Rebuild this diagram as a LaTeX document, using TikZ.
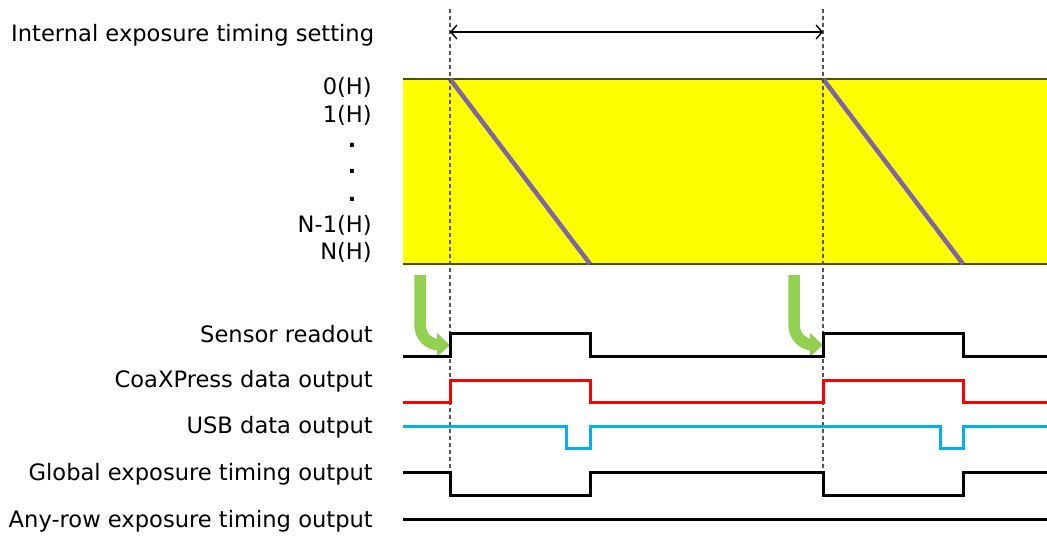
\documentclass[tikz,border=0pt]{standalone}
\usepackage{fontspec}
\setmainfont{DejaVu Sans}
\newfontfamily\dotfont{DejaVu Sans Bold}
\usetikzlibrary{arrows.meta}
\definecolor{ylw}{RGB}{255,255,0}
\definecolor{ylwedge}{RGB}{77,77,0}
\definecolor{purp}{RGB}{128,100,170}
\definecolor{grn}{RGB}{146,208,80}
\definecolor{blu}{RGB}{0,176,240}
\definecolor{dashgray}{RGB}{85,85,85}
\begin{document}
\begin{tikzpicture}[x=1pt,y=-1pt,
  lbl/.style={anchor=base east, font=\fontsize{22.6}{24}\selectfont, inner sep=0pt},
  dotlbl/.style={anchor=base, font=\fontsize{22}{24}\dotfont, inner sep=0pt},
  sig/.style={line width=3pt, line join=miter},
  guide/.style={dashgray, line width=1.5pt, dash pattern=on 4pt off 3pt},
  ramp/.style={purp, line width=4.5pt},
  greenarrow/.style={grn, line width=11.5pt, rounded corners=20pt, -{Triangle[length=13pt,width=23pt]}},
  span/.style={line width=1.4pt, {Straight Barb[length=6pt,width=14pt]}-{Straight Barb[length=6pt,width=14pt]}}
]
\useasboundingbox (0,0) rectangle (1047,540);

% yellow exposure band
\fill[ylw] (403,79) rectangle (1047,264);
\draw[ylwedge, line width=1.4pt] (403,79) -- (1047,79);
\draw[ylwedge, line width=1.4pt] (403,264) -- (1047,264);

% readout ramps
\coordinate (r1a) at (450,79);
\coordinate (r1b) at (590,264);
\coordinate (r2a) at (823,79);
\coordinate (r2b) at (963,264);
\draw[ramp] (r1a) -- (r1b);
\draw[ramp] (r2a) -- (r2b);

% guide lines
\coordinate (g1t) at (450,9);
\coordinate (g1b) at (450,472);
\coordinate (g2t) at (823,9);
\coordinate (g2b) at (823,472);
\draw[guide] (g1t) -- (g1b);
\draw[guide] (g2t) -- (g2b);

% period arrow
\coordinate (p1) at (450,32);
\coordinate (p2) at (823,32);
\draw[span] (p1) -- (p2);

% labels
\node[lbl, anchor=base west] (tInt) at (11,42) {Internal exposure timing setting};
\node[lbl] (t0) at (372,95) {0(H)};
\node[lbl] (t1) at (372,123) {1(H)};
\node[dotlbl] (d1) at (352,148) {.};
\node[dotlbl] (d2) at (352,174) {.};
\node[dotlbl] (d3) at (352,202) {.};
\node[lbl] (tN1) at (372,233) {N-1(H)};
\node[lbl] (tN) at (372,260) {N(H)};

\node[lbl] (tSens) at (373,342) {Sensor readout};
\node[lbl] (tCoax) at (373,387) {CoaXPress data output};
\node[lbl] (tUsb) at (373,433) {USB data output};
\node[lbl] (tGlob) at (373,480) {Global exposure timing output};
\node[lbl] (tAny) at (373,527) {Any-row exposure timing output};

% green arrows
\coordinate (ga1s) at (420,275);
\coordinate (ga1c) at (420,345);
\coordinate (ga1e) at (450,345);
\coordinate (ga2s) at (794,275);
\coordinate (ga2c) at (794,345);
\coordinate (ga2e) at (823,345);
\draw[greenarrow] (ga1s) -- (ga1c) -- (ga1e);
\draw[greenarrow] (ga2s) -- (ga2c) -- (ga2e);

% sensor readout
\draw[sig, black] (403,356) -- (450,356) -- (450,333) -- (590,333) -- (590,356)
  -- (823,356) -- (823,333) -- (963,333) -- (963,356) -- (1047,356);
% CoaXPress
\draw[sig, red] (403,402) -- (450,402) -- (450,380) -- (590,380) -- (590,402)
  -- (823,402) -- (823,380) -- (963,380) -- (963,402) -- (1047,402);
% USB
\draw[sig, blu] (403,426) -- (566,426) -- (566,448) -- (590,448) -- (590,426)
  -- (940,426) -- (940,448) -- (963,448) -- (963,426) -- (1047,426);
% Global
\draw[sig, black] (403,472) -- (450,472) -- (450,495) -- (590,495) -- (590,472)
  -- (823,472) -- (823,495) -- (963,495) -- (963,472) -- (1047,472);
% Any-row
\draw[sig, black] (403,519) -- (1047,519);
\end{tikzpicture}
\end{document}
